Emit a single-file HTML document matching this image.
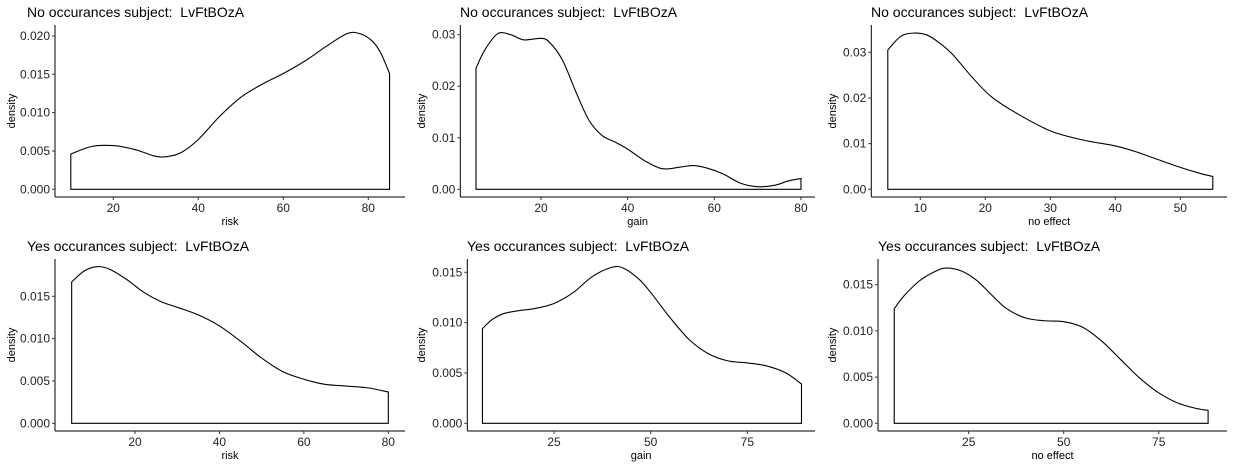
<!DOCTYPE html>
<html><head><meta charset="utf-8"><style>
html,body{margin:0;padding:0;background:#fff;}
svg{display:block;font-family:"Liberation Sans",Arial,sans-serif;}
text{white-space:pre;}
</style></head><body>
<svg id="chart" width="1234" height="468" xmlns="http://www.w3.org/2000/svg"></svg>
<script>
// ---- data (x positions and density values) ----
const p1X = [10,15,20,25,30,33,36,40,45,50,55,60,65,70,75,78,81,83,85];
const p1Y = [0.0046,0.0056,0.0057,0.0052,0.0043,0.0043,0.0048,0.0065,0.0095,0.0120,0.0137,0.0151,0.0167,0.0186,0.0203,0.0203,0.0193,0.0177,0.0151];
const p2X = [5,7,10,13,16,20,22,25,28,31,34,37,40,44,48,52,55,58,62,66,70,74,77,80];
const p2Y = [0.0235,0.0270,0.0302,0.0300,0.0290,0.0293,0.0285,0.0250,0.0190,0.0135,0.0105,0.0092,0.0078,0.0055,0.0040,0.0043,0.0046,0.0042,0.0030,0.0012,0.0005,0.0008,0.0016,0.0021];
const p3X = [5,7,9,11,13,15,18,21,25,30,35,40,43,46,50,53,55];
const p3Y = [0.0305,0.0335,0.0342,0.0338,0.0320,0.0295,0.0245,0.0202,0.0165,0.0128,0.0108,0.0095,0.0083,0.0068,0.0048,0.0035,0.0028];
const p4X = [5,8,11,14,18,22,26,30,35,40,45,50,55,60,65,70,75,80];
const p4Y = [0.0167,0.0180,0.0185,0.0182,0.0170,0.0155,0.0144,0.0137,0.0128,0.0115,0.0097,0.0077,0.0061,0.0052,0.0046,0.0044,0.0042,0.0037];
const p5X = [6.5,9,12,16,20,25,30,35,40,43,47,50,55,60,65,70,75,80,85,89];
const p5Y = [0.0094,0.0103,0.0109,0.0112,0.0114,0.0119,0.0130,0.0146,0.0155,0.0154,0.0143,0.0130,0.0105,0.0083,0.0069,0.0062,0.0060,0.0057,0.0050,0.0039];
const p6X = [5.4,8,12,16,19,23,27,31,35,40,45,50,55,60,65,70,75,80,85,88];
const p6Y = [0.0124,0.0138,0.0154,0.0164,0.0168,0.0165,0.0155,0.0139,0.0124,0.0114,0.0111,0.0110,0.0104,0.0089,0.0069,0.0049,0.0033,0.0022,0.0016,0.0014];
const xTicks1 = [20,40,60,80];
const xTicks3 = [10,20,30,40,50];
const xTicks5 = [25,50,75];
const yTicks1 = ["0.000","0.005","0.010","0.015","0.020"];
const yTicks2 = ["0.00","0.01","0.02","0.03"];
const yTicks4 = ["0.000","0.005","0.010","0.015"];
const titlesNo = "No occurances subject:  LvFtBOzA";
const titlesYes = "Yes occurances subject:  LvFtBOzA";

const NS = "http://www.w3.org/2000/svg";
const svg = document.getElementById("chart");
function mk(tag, attrs, parent){
  const e = document.createElementNS(NS, tag);
  for (const k in attrs) e.setAttribute(k, attrs[k]);
  (parent||svg).appendChild(e);
  return e;
}
function panel(name, cfg, xs, ys, xt, yt, title, xlab){
  const g = mk("g", {});
  
  
  const sx = v => cfg.x0px + (v - cfg.x0v) * cfg.xs;
  const sy = v => cfg.y0px - v * cfg.ys;
  const t = mk("text", {x: cfg.titleX, y: cfg.titleY, "font-size": 14, fill: "#000"}, g);
  t.textContent = title;
  
  
  const ya = mk("line", {x1: cfg.ax, x2: cfg.ax, y1: cfg.top, y2: cfg.bot, stroke: "#000", "stroke-width": 1}, g);
  
  
  const xa = mk("line", {x1: cfg.ax, x2: cfg.right, y1: cfg.bot, y2: cfg.bot, stroke: "#000", "stroke-width": 1}, g);
  
  
  xt.forEach(v => {
    const px = sx(v);
    mk("line", {x1: px, x2: px, y1: cfg.bot, y2: cfg.bot + 3, stroke: "#333"}, g);
    const l = mk("text", {x: px, y: cfg.bot + 15, "font-size": 12, fill: "#222", "text-anchor": "middle"}, g);
    l.textContent = v;
    
    
  });
  yt.forEach(s => {
    const py = sy(parseFloat(s));
    mk("line", {x1: cfg.ax - 3, x2: cfg.ax, y1: py, y2: py, stroke: "#333"}, g);
    const l = mk("text", {x: cfg.ax - 5, y: py + 4, "font-size": 12, fill: "#222", "text-anchor": "end"}, g);
    l.textContent = s;
    
    
  });
  const xl = mk("text", {x: (cfg.ax + cfg.right) / 2, y: cfg.bot + 28, "font-size": 11, fill: "#000", "text-anchor": "middle"}, g);
  xl.textContent = xlab;
  
  
  const yc = (cfg.top + cfg.bot) / 2;
  const yl = mk("text", {x: cfg.ylx, y: yc, "font-size": 11, fill: "#000", "text-anchor": "middle", transform: `rotate(-90 ${cfg.ylx} ${yc})`}, g);
  yl.textContent = "density";
  
  
  const P = xs.map((v, i) => [sx(v), sy(ys[i])]);
  let d = `M${sx(xs[0])},${sy(0)} L${P[0][0]},${P[0][1]}`;
  for (let i = 0; i < P.length - 1; i++) {
    const p0 = P[i - 1] || P[i], p1 = P[i], p2 = P[i + 1], p3 = P[i + 2] || P[i + 1];
    const c1 = [p1[0] + (p2[0] - p0[0]) / 6, p1[1] + (p2[1] - p0[1]) / 6];
    const c2 = [p2[0] - (p3[0] - p1[0]) / 6, p2[1] - (p3[1] - p1[1]) / 6];
    d += ` C${c1[0]},${c1[1]} ${c2[0]},${c2[1]} ${p2[0]},${p2[1]}`;
  }
  d += ` L${sx(xs[xs.length - 1])},${sy(0)} Z`;
  const path = mk("path", {d: d, fill: "none", stroke: "#000", "stroke-width": 1.1}, g);
  
  
}
panel("panel-no-risk", {x0px:113.3,x0v:20,xs:4.25,y0px:189.3,ys:7667,ax:55,top:25,bot:197,right:405,titleX:27,titleY:17,ylx:15}, p1X, p1Y, xTicks1, yTicks1, titlesNo, "risk");
panel("panel-no-gain", {x0px:541,x0v:20,xs:4.333,y0px:189.3,ys:5153,ax:460.3,top:25,bot:197,right:815,titleX:460,titleY:17,ylx:425}, p2X, p2Y, xTicks1, yTicks2, titlesNo, "gain");
panel("panel-no-noeffect", {x0px:920.3,x0v:10,xs:6.5,y0px:189.3,ys:4567,ax:871.3,top:25,bot:197,right:1227,titleX:871,titleY:17,ylx:836}, p3X, p3Y, xTicks3, yTicks2, titlesNo, "no effect");
panel("panel-yes-risk", {x0px:135,x0v:20,xs:4.222,y0px:423.3,ys:8467,ax:55,top:259,bot:431,right:405,titleX:27,titleY:251,ylx:15}, p4X, p4Y, xTicks1, yTicks4, titlesYes, "risk");
panel("panel-yes-gain", {x0px:554,x0v:25,xs:3.867,y0px:423.3,ys:10067,ax:467.3,top:259,bot:431,right:815,titleX:467,titleY:251,ylx:425}, p5X, p5Y, xTicks5, yTicks4, titlesYes, "gain");
panel("panel-yes-noeffect", {x0px:968.7,x0v:25,xs:3.8,y0px:423.3,ys:9240,ax:878,top:259,bot:431,right:1227,titleX:878,titleY:251,ylx:836}, p6X, p6Y, xTicks5, yTicks4, titlesYes, "no effect");
</script>
</body></html>
